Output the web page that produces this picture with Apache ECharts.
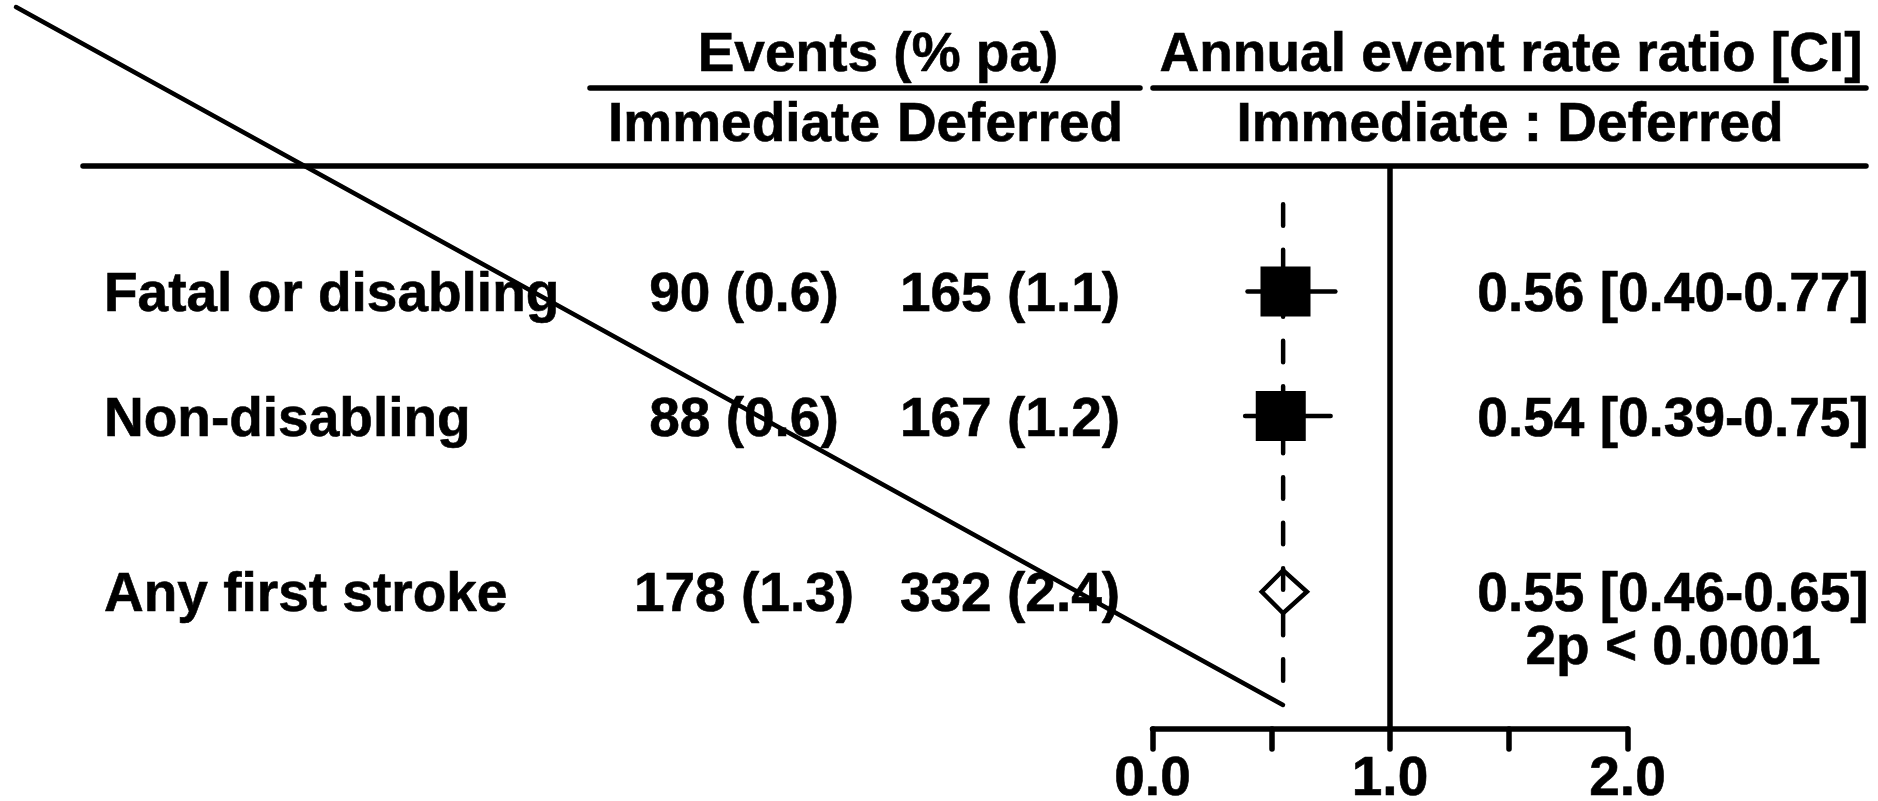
<!DOCTYPE html>
<html>
<head>
<meta charset="utf-8">
<script src="https://cdn.jsdelivr.net/npm/echarts@6/dist/echarts.min.js"></script>
<style>html,body{margin:0;padding:0;background:#fff}#c{width:1878px;height:801px}</style>
</head>
<body>
<div id="c"></div>
<script>
// ---- data ----
const categories = ['Fatal or disabling', 'Non-disabling', 'Any first stroke'];
const immediateEvents = [90, 88, 178];
const immediateRate = [0.6, 0.6, 1.3];
const deferredEvents = [165, 167, 332];
const deferredRate = [1.1, 1.2, 2.4];
const rateRatio = [0.56, 0.54, 0.55];
const ciLower = [0.40, 0.39, 0.46];
const ciUpper = [0.77, 0.75, 0.65];
const isTotal = [false, false, true];
const rowPosition = [1, 2, 3.41];
const pValueText = '2p < 0.0001';
const xTickLabels = ['0.0', '1.0', '2.0'];
const headerGroups = ['Events (% pa)', 'Annual event rate ratio [CI]'];
const headerSubs = ['Immediate', 'Deferred', 'Immediate : Deferred'];

// ---- layout / style ----
const FONT_FAMILY = '"Liberation Sans", Arial, Helvetica, sans-serif';
const FS = 55;
const COL_LABEL_X = 104, COL_IMM_X = 744, COL_DEF_X = 1010, COL_RATIO_X = 1673;
const TEXT_DY = 4.5;
const Y_MAX = 4.512;
const dashExtent = [0.3, 4.14];

function txt(text, x, y, align) {
  return {
    type: 'text', x: x, y: y, silent: true, z: 10,
    style: { text: text, fill: '#000', fontSize: FS, fontWeight: 'bold', fontFamily: FONT_FAMILY,
             align: align, verticalAlign: 'middle', stroke: '#000', lineWidth: 0.6 }
  };
}
function hline(x1, y1, x2, y2, w) {
  return { type: 'line', silent: true, z: 10, shape: { x1: x1, y1: y1, x2: x2, y2: y2 },
           style: { stroke: '#000', lineWidth: w, lineCap: 'round' } };
}

const rowIdx = categories.map((c, i) => i);
const studyRows = rowIdx.filter(i => !isTotal[i]);
const totalRows = rowIdx.filter(i => isTotal[i]);
const pooled = rateRatio[totalRows[0]];

const chart = echarts.init(document.getElementById('c'), null, { renderer: 'canvas' });

const option = {
  animation: false,
  backgroundColor: '#fff',
  grid: { left: 1152.5, right: 250.5, top: 167, bottom: 72, outerBoundsMode: 'none', containLabel: false },
  xAxis: {
    type: 'value', min: 0, max: 2, interval: 0.5,
    axisLine: { show: true, onZero: false, lineStyle: { color: '#000', width: 5.5, cap: 'round' } },
    axisTick: { show: true, length: 20, lineStyle: { color: '#000', width: 5.5, cap: 'round' } },
    axisLabel: {
      show: true, margin: 23, color: '#000', fontSize: FS, fontWeight: 'bold', fontFamily: FONT_FAMILY,
      textBorderColor: '#000', textBorderWidth: 0.6,
      showMinLabel: true, showMaxLabel: true,
      formatter: v => (Math.abs(v - Math.round(v)) < 1e-9 ? xTickLabels[Math.round(v)] : '')
    },
    splitLine: { show: false }
  },
  yAxis: {
    type: 'value', inverse: true, min: 0, max: Y_MAX, show: false,
    splitLine: { show: false }
  },
  graphic: [
    txt(headerGroups[0], 878, 56, 'center'),
    txt(headerGroups[1], 1511, 56, 'center'),
    hline(590, 88, 1140, 88, 5.5),
    hline(1153, 88, 1866, 88, 5.5),
    txt(headerSubs[0], COL_IMM_X, 126, 'center'),
    txt(headerSubs[1], COL_DEF_X, 126, 'center'),
    txt(headerSubs[2], 1510, 126, 'center'),
    hline(83, 166, 1866, 166, 5.5),
    txt(pValueText, COL_RATIO_X, 649, 'center'),
    Object.assign(hline(16, 7, 1283, 705, 4.5), { z: 100 })
  ],
  series: [
    {
      name: 'reference', type: 'line', symbol: 'none', silent: true, z: 2,
      data: [[1, 0], [1, Y_MAX]],
      lineStyle: { color: '#000', width: 5.5 }
    },
    {
      name: 'pooled', type: 'line', symbol: 'none', silent: true, z: 2,
      data: [[pooled, dashExtent[0]], [pooled, dashExtent[1]]],
      lineStyle: { color: '#000', width: 4.5, type: [21.5, 24], cap: 'round' }
    },
    {
      name: 'estimates', type: 'custom', coordinateSystem: 'cartesian2d', silent: true, z: 3,
      data: studyRows.map(i => [rateRatio[i], rowPosition[i], ciLower[i], ciUpper[i]]),
      encode: { x: [0, 2, 3], y: 1 },
      renderItem: (params, api) => {
        const c = api.coord([api.value(0), api.value(1)]);
        const lo = api.coord([api.value(2), api.value(1)]);
        const hi = api.coord([api.value(3), api.value(1)]);
        const half = 25;
        return {
          type: 'group', children: [
            { type: 'line', shape: { x1: lo[0], y1: lo[1], x2: hi[0], y2: hi[1] },
              style: { stroke: '#000', lineWidth: 4.5, lineCap: 'round' } },
            { type: 'rect', shape: { x: c[0] - half, y: c[1] - half, width: half * 2, height: half * 2 },
              style: { fill: '#000' } }
          ]
        };
      }
    },
    {
      name: 'total', type: 'custom', coordinateSystem: 'cartesian2d', silent: true, z: 3,
      data: totalRows.map(i => [rateRatio[i], rowPosition[i], ciLower[i], ciUpper[i]]),
      encode: { x: [0, 2, 3], y: 1 },
      renderItem: (params, api) => {
        const c = api.coord([api.value(0), api.value(1)]);
        const lo = api.coord([api.value(2), api.value(1)]);
        const hi = api.coord([api.value(3), api.value(1)]);
        const h = 21.5;
        return {
          type: 'polygon',
          shape: { points: [[lo[0], c[1]], [c[0], c[1] - h], [hi[0], c[1]], [c[0], c[1] + h]] },
          style: { fill: 'none', stroke: '#000', lineWidth: 4.5, lineJoin: 'miter' }
        };
      }
    },
    {
      name: 'rowText', type: 'custom', coordinateSystem: 'cartesian2d', silent: true, z: 5, clip: false,
      data: rowIdx.map(i => [rateRatio[i], rowPosition[i], i]),
      encode: { x: 0, y: 1 },
      renderItem: (params, api) => {
        const i = api.value(2);
        const y = api.coord([0, rowPosition[i]])[1] + TEXT_DY;
        return {
          type: 'group', children: [
            txt(categories[i], COL_LABEL_X, y, 'left'),
            txt(immediateEvents[i] + ' (' + immediateRate[i].toFixed(1) + ')', COL_IMM_X, y, 'center'),
            txt(deferredEvents[i] + ' (' + deferredRate[i].toFixed(1) + ')', COL_DEF_X, y, 'center'),
            txt(rateRatio[i].toFixed(2) + ' [' + ciLower[i].toFixed(2) + '-' + ciUpper[i].toFixed(2) + ']', COL_RATIO_X, y, 'center')
          ]
        };
      }
    }
  ]
};
chart.setOption(option);
</script>
</body>
</html>
